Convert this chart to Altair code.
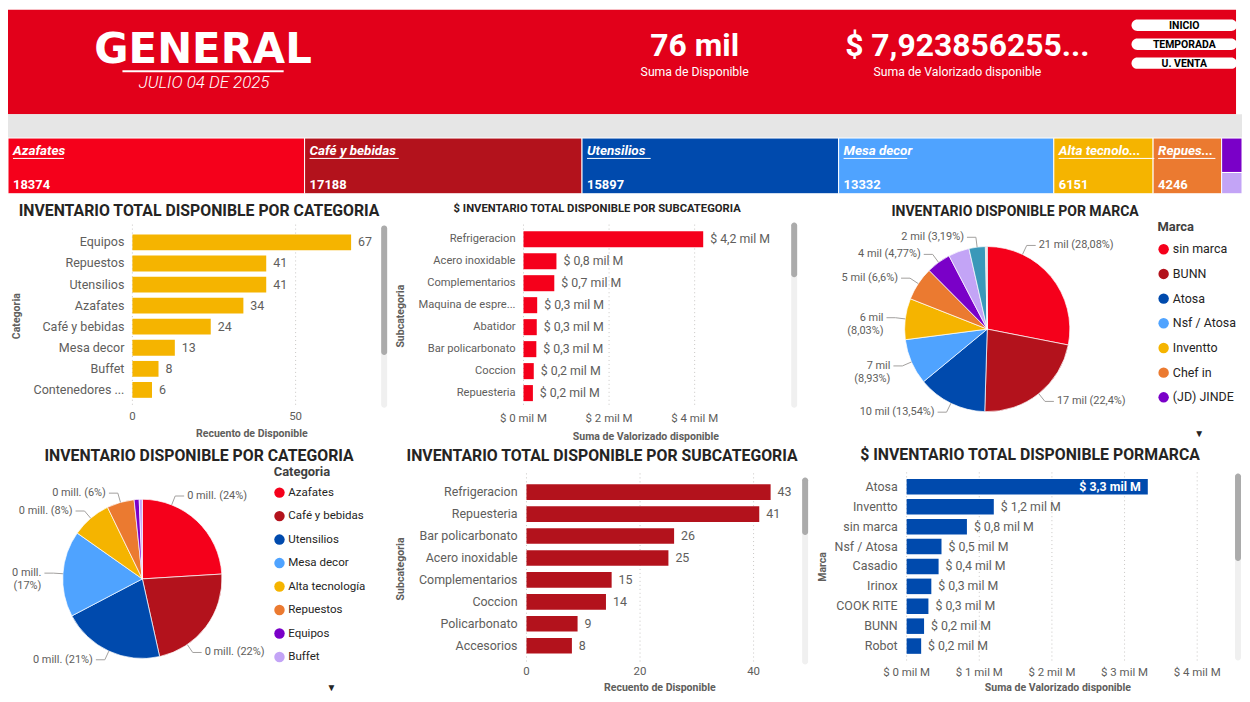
import math
import altair as alt
import pandas as pd

# ---------------- data ----------------
cat_names = ["Azafates", "Café y bebidas", "Utensilios", "Mesa decor",
             "Alta tecnología", "Repuestos", "Equipos", "Buffet"]
cat_stock = [18374, 17188, 15897, 13332, 6151, 4246, 780, 482]
cat_tile_text = ["Azafates", "Café y bebidas", "Utensilios", "Mesa decor",
                 "Alta tecnolo...", "Repues...", "", ""]
cat_colors = ["#F5001B", "#B3121C", "#004AAD", "#4FA3FF",
              "#F5B400", "#EB7A30", "#7A00C8", "#C3A4F6"]

count_cat_names = ["Equipos", "Repuestos", "Utensilios", "Azafates",
                   "Café y bebidas", "Mesa decor", "Buffet", "Contenedores ..."]
count_cat_values = [67, 41, 41, 34, 24, 13, 8, 6]

value_sub_names = ["Refrigeracion", "Acero inoxidable", "Complementarios",
                   "Maquina de espre...", "Abatidor", "Bar policarbonato",
                   "Coccion", "Repuesteria"]
value_sub_values = [4.20, 0.77, 0.72, 0.32, 0.31, 0.30, 0.24, 0.22]  # mil M

marca_names = ["sin marca", "BUNN", "Atosa", "Nsf / Atosa", "Inventto",
               "Chef in", "(JD) JINDE", "Casadio", "Irinox", "COOK RITE", "Robot"]
marca_stock = [21467, 17125, 10351, 6827, 6139, 5046, 3647, 3134, 2439, 170, 105]
marca_colors = ["#F5001B", "#B3121C", "#004AAD", "#4FA3FF", "#F5B400",
                "#EB7A30", "#7A00C8", "#C3A4F6", "#3A98B9", "#9A9A9A", "#6F7F8F"]

count_sub_names = ["Refrigeracion", "Repuesteria", "Bar policarbonato",
                   "Acero inoxidable", "Complementarios", "Coccion",
                   "Policarbonato", "Accesorios"]
count_sub_values = [43, 41, 26, 25, 15, 14, 9, 8]

value_marca_names = ["Atosa", "Inventto", "sin marca", "Nsf / Atosa", "Casadio",
                     "Irinox", "COOK RITE", "BUNN", "Robot"]
value_marca_values = [3.32, 1.20, 0.83, 0.48, 0.44, 0.34, 0.30, 0.24, 0.20]  # mil M

kpi_valorizado_text = "$ 7,923856255..."
report_title = "GENERAL"
report_date = "JULIO 04 DE 2025"
buttons = ["INICIO", "TEMPORADA", "U. VENTA"]

# ---------------- style helpers ----------------
FONT = "Roboto"
GRAY = "#605E5C"
DARK = "#252423"
GRID = "#C8C6C4"
ONE = pd.DataFrame({"k": [0]})
W, H = 1240, 686


def X(p):  # page x -> chart x
    return p - 8


def Y(p):  # page y -> chart y
    return p - 8


def money(v):
    return "$ " + f"{v:.1f}".replace(".", ",") + " mil M"


def pct2(p):
    s = f"{p:.2f}".rstrip("0").rstrip(".")
    return s.replace(".", ",")


def vrect(x0, x1, y0, y1, color, radius=0):
    return alt.Chart(ONE).mark_rect(color=color, cornerRadius=radius).encode(
        x=alt.value(X(x0)), x2=alt.value(X(x1)), y=alt.value(Y(y0)), y2=alt.value(Y(y1)))


def label(text, x, y, size, color=DARK, weight="normal", align="center",
          style="normal", baseline="alphabetic", angle=0, font=FONT):
    return alt.Chart(pd.DataFrame({"t": [text]})).mark_text(
        fontSize=size, color=color, fontWeight=weight, align=align, angle=angle,
        fontStyle=style, baseline=baseline, font=font
    ).encode(x=alt.value(X(x)), y=alt.value(Y(y)), text="t:N")


def scrollbar(x, y0, y1, yt):
    return [vrect(x, x + 6, y0, y1, "#F0F0F0", 3), vrect(x, x + 6, y0, yt, "#ABABAB", 3)]


def bar_panel(names, values, texts, color, x0, x1, xmax, y0, y1, pi, po,
              ticks, tick_fmt, tick_y, cat_x, cat_size, val_size, inside_thr=None):
    df = pd.DataFrame({"name": names, "v": values, "t": texts})
    xs = alt.Scale(domain=[0, xmax], range=[X(x0), X(x1)], nice=False, zero=True)
    ys = alt.Scale(type="band", domain=names, range=[Y(y0), Y(y1)],
                   paddingInner=pi, paddingOuter=po)
    base = alt.Chart(df)
    ey = alt.Y("name:N", scale=ys, axis=None)
    ex = alt.X("v:Q", scale=xs, axis=None)
    tdf = pd.DataFrame({"tick": ticks, "lab": [tick_fmt(t) for t in ticks]})
    tx = alt.X("tick:Q", scale=xs, axis=None)
    layers = [
        alt.Chart(tdf).mark_rule(color=GRID, strokeDash=[1, 3], strokeWidth=1).encode(
            x=tx, y=alt.value(Y(y0)), y2=alt.value(Y(y1))),
        alt.Chart(tdf).mark_text(fontSize=11.5, color=GRAY, baseline="middle").encode(
            x=tx, y=alt.value(Y(tick_y)), text="lab:N"),
        base.mark_bar(color=color).encode(x=ex, y=ey),
        base.mark_text(align="right", baseline="middle", fontSize=cat_size,
                       color=GRAY).encode(x=alt.value(X(cat_x)), y=ey, text="name:N"),
    ]
    out = base if inside_thr is None else base.transform_filter(f"datum.v <= {inside_thr}")
    layers.append(out.mark_text(align="left", baseline="middle", dx=7,
                                fontSize=val_size, color=GRAY).encode(x=ex, y=ey, text="t:N"))
    if inside_thr is not None:
        layers.append(base.transform_filter(f"datum.v > {inside_thr}").mark_text(
            align="right", baseline="middle", dx=-7, fontSize=val_size,
            color="white", fontWeight="bold").encode(x=ex, y=ey, text="t:N"))
    return layers


def pie_panel(names, values, colors, fmt, legend_values, legend_title, cx, cy, r,
              frac_over, hidden, legend_xy, legend_label_size, legend_row_pad,
              legend_title_pad):
    total = float(sum(values))
    df = pd.DataFrame({"name": names, "v": values, "idx": list(range(len(names)))})
    line_rows, lab_rows = [], []
    cum = 0.0
    for n, v in zip(names, values):
        a0 = cum / total * 2 * math.pi
        cum += v
        a1 = cum / total * 2 * math.pi
        if n in hidden or v / total < 0.02:
            continue
        a = a0 + frac_over.get(n, 0.5) * (a1 - a0)
        s, c = math.sin(a), math.cos(a)
        side = 1 if s >= 0 else -1
        ex_, ey_ = 1.12 * s, 1.12 * c
        tail = 9.0 / r
        for k, (px, py) in enumerate([(s, c), (ex_, ey_), (ex_ + side * tail, ey_)]):
            line_rows.append({"id": n, "k": k, "px": px, "py": py})
        t = fmt(v, total)
        if abs(s) > 0.9:
            t = t.replace(" (", "\n(")
        lab_rows.append({"t": t, "px": ex_ + side * 12.0 / r, "py": ey_, "side": side})
    xs = alt.Scale(domain=[-1, 1], range=[X(cx) - r, X(cx) + r], nice=False, zero=False)
    ys = alt.Scale(domain=[-1, 1], range=[Y(cy) + r, Y(cy) - r], nice=False, zero=False)
    arc = alt.Chart(df).mark_arc(outerRadius=r, stroke="white", strokeWidth=0.7).encode(
        x=alt.value(X(cx)), y=alt.value(Y(cy)),
        theta=alt.Theta("v:Q", stack=True),
        order=alt.Order("idx:Q"),
        color=alt.Color("name:N", scale=alt.Scale(domain=names, range=colors),
                        legend=alt.Legend(
                            orient="none", legendX=X(legend_xy[0]), legendY=Y(legend_xy[1]),
                            title=legend_title, values=legend_values,
                            titleFontSize=13, titleFontWeight="bold", titleColor="#404040",
                            titlePadding=legend_title_pad, labelFontSize=legend_label_size,
                            labelColor=DARK, symbolType="circle", symbolSize=110,
                            symbolStrokeWidth=0, rowPadding=legend_row_pad,
                            labelOffset=3, padding=0)))
    lines = alt.Chart(pd.DataFrame(line_rows)).mark_line(
        color="#A19F9D", strokeWidth=1).encode(
        x=alt.X("px:Q", scale=xs, axis=None), y=alt.Y("py:Q", scale=ys, axis=None),
        detail="id:N", order="k:Q")
    labdf = pd.DataFrame(lab_rows)
    layers = [arc, lines]
    for side, al in [(1, "left"), (-1, "right")]:
        sub = labdf[labdf.side == side]
        if len(sub):
            layers.append(alt.Chart(sub).mark_text(
                align=al, baseline="middle", lineBreak="\n", lineHeight=13,
                fontSize=11, color=GRAY).encode(
                x=alt.X("px:Q", scale=xs, axis=None),
                y=alt.Y("py:Q", scale=ys, axis=None), text="t:N"))
    return layers


L = []

# ---------------- header ----------------
total_stock = sum(cat_stock)
kpi_stock_text = f"{round(total_stock / 1000)} mil"
L += [
    vrect(8, 1242, 8, 113, "#E2001A"),
    vrect(8, 1248, 113, 137, "#E6E6E6"),
    label(report_title, 204, 62, 42, "white", "bold", font="DejaVu Sans"),
    alt.Chart(ONE).mark_rule(color="white", strokeWidth=2).encode(
        x=alt.value(X(123)), x2=alt.value(X(285)), y=alt.value(Y(70))),
    label(report_date, 205, 87, 17, "white", 300, style="italic"),
    label(kpi_stock_text, 698, 55, 32, "white", "bold"),
    label("Suma de Disponible", 698, 74.5, 12.3, "white"),
    label(kpi_valorizado_text, 972, 55, 32, "white", "bold"),
    label("Suma de Valorizado disponible", 962, 74.5, 12.3, "white"),
]
for i, b in enumerate(buttons):
    y0 = 18 + i * 19
    L.append(vrect(1137, 1243, y0, y0 + 11.5, "white", 6))
    L.append(label(b, 1190, y0 + 9.7, 10.5, "black", "bold"))

# ---------------- category strip (treemap row) ----------------
sx = alt.Scale(domain=[0, total_stock], range=[X(8), X(1248)], nice=False, zero=True)
sy = alt.Scale(domain=[0, 1], range=[Y(137), Y(193)], nice=False, zero=True)
px_unit = (1248 - 8) / total_stock
rows = []
cum = 0
for n, v, t in zip(cat_names[:6], cat_stock[:6], cat_tile_text[:6]):
    rows.append(dict(name=n, x0=cum, x1=cum + v, y0=0.0, y1=1.0, t=t, val=str(v),
                     u0=cum + 5 / px_unit, u1=cum + (5 + 6.4 * len(t)) / px_unit))
    cum += v
rest = sum(cat_stock[6:])
yc = 0.0
for n, v in zip(cat_names[6:], cat_stock[6:]):
    rows.append(dict(name=n, x0=cum, x1=total_stock, y0=yc, y1=yc + v / rest, t="",
                     val="", u0=cum, u1=cum))
    yc += v / rest
sdf = pd.DataFrame(rows)
L.append(alt.Chart(sdf).mark_rect(stroke="white", strokeWidth=1).encode(
    x=alt.X("x0:Q", scale=sx, axis=None), x2="x1:Q",
    y=alt.Y("y0:Q", scale=sy, axis=None), y2="y1:Q",
    color=alt.Color("name:N", scale=alt.Scale(domain=cat_names, range=cat_colors),
                    legend=None)))
named = alt.Chart(sdf[sdf.t != ""])
L.append(named.mark_rule(color="white", strokeWidth=1).encode(
    x=alt.X("u0:Q", scale=sx, axis=None), x2="u1:Q", y=alt.value(Y(157.5))))
L.append(named.mark_text(align="left", baseline="middle", dx=5, fontSize=13.5,
                         fontWeight="bold", fontStyle="italic", color="white").encode(
    x=alt.X("x0:Q", scale=sx, axis=None), y=alt.value(Y(150)), text="t:N"))
L.append(named.mark_text(align="left", baseline="middle", dx=5, fontSize=13,
                         fontWeight="bold", color="white").encode(
    x=alt.X("x0:Q", scale=sx, axis=None), y=alt.value(Y(184)), text="val:N"))

# ---------------- panel 1: count by category ----------------
L += bar_panel(count_cat_names, count_cat_values, [str(v) for v in count_cat_values],
               "#F5B400", 133, 380, 75.3, 224, 408, 0.25, 0.47,
               [0, 50], lambda t: str(t), 417, 125, 12.6, 12.5)
L += [label("INVENTARIO TOTAL DISPONIBLE POR CATEGORIA", 200, 215, 15.9, DARK, "bold"),
      label("Recuento de Disponible", 253, 434, 10.6, GRAY, "bold", baseline="middle"),
      label("Categoria", 17, 316, 10.6, GRAY, "bold", baseline="middle", angle=270)]
L += scrollbar(383, 225, 408, 355)

# ---------------- panel 2: value by subcategory ----------------
mil_fmt = lambda t: f"$ {t} mil M"
L += bar_panel(value_sub_names, value_sub_values, [money(v) for v in value_sub_values],
               "#F5001B", 526, 790, 6.14, 224, 408, 0.27, 0.3,
               [0, 2, 4], mil_fmt, 419, 518, 11.2, 12.4)
L += [label("$ INVENTARIO TOTAL DISPONIBLE POR SUBCATEGORIA", 600, 211, 11.3, DARK, "bold"),
      label("Suma de Valorizado disponible", 649, 437, 10.6, GRAY, "bold", baseline="middle"),
      label("Subcategoria", 403, 316, 10.6, GRAY, "bold", baseline="middle", angle=270)]
L += scrollbar(795, 222, 408, 277)

# ---------------- panel 3: pie by brand ----------------
L += pie_panel(marca_names, marca_stock, marca_colors,
               lambda v, tot: f"{round(v / 1000)} mil ({pct2(100 * v / tot)}%)",
               marca_names[:7], "Marca", 992, 329, 83,
               {"sin marca": 0.25}, {"Casadio"}, (1163, 220.5), 12.5, 11.8, 9)
L += [label("INVENTARIO DISPONIBLE POR MARCA", 1020, 215, 14.1, DARK, "bold"),
      label("▼", 1205, 437, 10, DARK)]

# ---------------- panel 4: pie by category ----------------
L += pie_panel(cat_names, cat_stock, cat_colors,
               lambda v, tot: f"{round(v / 1e6)} mill. ({round(100 * v / tot)}%)",
               cat_names, "Categoria", 143, 580, 80,
               {"Azafates": 0.25, "Café y bebidas": 0.73}, set(), (275, 466.5), 11.6,
               10.6, 8)
L += [label("INVENTARIO DISPONIBLE POR CATEGORIA", 200, 462, 15.9, DARK, "bold"),
      label("▼", 333, 693, 10, DARK)]

# ---------------- panel 5: count by subcategory ----------------
L += bar_panel(count_sub_names, count_sub_values, [str(v) for v in count_sub_values],
               "#B3121C", 529, 800, 47.5, 474, 666, 0.29, 0.5,
               [0, 20, 40], lambda t: str(t), 674, 520, 12.5, 12.5)
L += [label("INVENTARIO TOTAL DISPONIBLE POR SUBCATEGORIA", 605, 462, 15.9, DARK, "bold"),
      label("Recuento de Disponible", 663, 690, 10.6, GRAY, "bold", baseline="middle"),
      label("Subcategoria", 403, 570, 10.6, GRAY, "bold", baseline="middle", angle=270)]
L += scrollbar(806, 478, 666, 536)

# ---------------- panel 6: value by brand ----------------
L += bar_panel(value_marca_names, value_marca_values, [money(v) for v in value_marca_values],
               "#004AAD", 911, 1231, 4.384, 473, 662, 0.22, 0.335,
               [0, 1, 2, 3, 4], mil_fmt, 675, 902, 12.5, 12.4, inside_thr=2.6)
L += [label("$ INVENTARIO TOTAL DISPONIBLE PORMARCA", 1035, 461, 15.9, DARK, "bold"),
      label("Suma de Valorizado disponible", 1063, 690, 10.6, GRAY, "bold", baseline="middle"),
      label("Marca", 827, 568, 10.6, GRAY, "bold", baseline="middle", angle=270)]
L += scrollbar(1241, 474, 662, 562)

chart = alt.layer(*L).resolve_scale(
    x="independent", y="independent", color="independent", theta="independent"
).properties(
    width=W, height=H, padding=0,
    autosize=alt.AutoSizeParams(type="none")
).configure(font=FONT).configure_view(stroke="transparent")

chart.save("out.html", embed_options={"renderer": "svg", "actions": False})
